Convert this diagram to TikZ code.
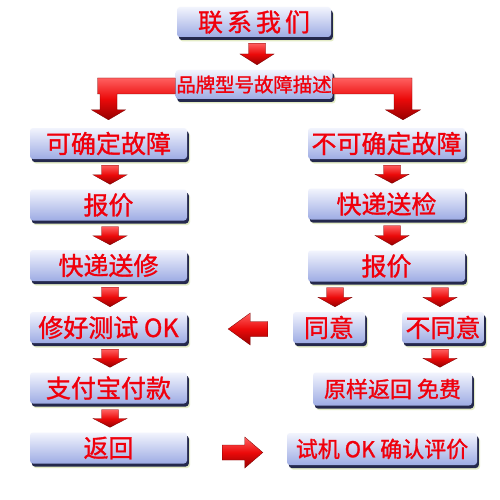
\documentclass[tikz,border=0pt]{standalone}
\usepackage{fontspec}
\newfontfamily\cjk[FakeBold=1.2]{Noto Sans CJK SC}
\usetikzlibrary{calc,shadows}
\definecolor{boxtop}{RGB}{242,244,253}
\definecolor{boxbot}{RGB}{158,172,228}
\definecolor{navy}{RGB}{36,40,76}
\definecolor{glow}{RGB}{228,236,198}
\definecolor{arrlight}{RGB}{255,95,95}
\definecolor{arrmid}{RGB}{235,10,10}
\definecolor{arrdark}{RGB}{150,0,0}
\definecolor{txtred}{RGB}{240,0,12}
\tikzset{
  box/.style={rectangle, rounded corners=3pt, top color=boxtop, bottom color=boxbot,
    general shadow={fill=glow, shadow xshift=3pt, shadow yshift=-4.5pt},
    general shadow={fill=navy, shadow xshift=1.8pt, shadow yshift=-3pt},
    text=txtred, font=\cjk\fontsize{25}{25}\selectfont, inner sep=0pt,
    minimum height=31pt, minimum width=157pt},
  redarrow/.style={top color=arrlight, bottom color=arrdark, middle color=arrmid,
    draw=arrdark!80!black, line width=0.3pt},
}
% vertical down arrow: #1 x reference, #2 source node, #3 target node
\newcommand\vdown[3]{%
  \path[redarrow] let \p1=(#1), \p2=($(#2.south)+(0,-6pt)$), \p3=($(#3.north)+(0,5pt)$),
    \n1={\y3+0.5*(\y2-\y3)} in
    (\x1-8.5pt,\y2) -- (\x1+8.5pt,\y2) -- (\x1+8.5pt,\n1) -- (\x1+17pt,\n1) --
    (\x1,\y3) -- (\x1-17pt,\n1) -- (\x1-8.5pt,\n1) -- cycle;}
\begin{document}
\begin{tikzpicture}[x=1pt,y=-1pt]
\useasboundingbox[fill=white] (0,0) rectangle (500,500);
% boxes
\node[box, minimum width=154pt, minimum height=30pt] (n1) at (254,22) {联\hspace{4pt}系\hspace{4pt}我\hspace{4pt}们};
\node[box, minimum width=157pt, minimum height=29pt, font=\cjk\fontsize{19.4}{19.4}\selectfont] (n2) at (254,84.5) {品牌型号故障描述};
\node[box] (l1) at (108.5,143.5) {可确定故障};
\node[box] (l2) at (108.5,205) {报价};
\node[box] (l3) at (108.5,265.5) {快递送修};
\node[box] (l4) at (108.5,327.5) {修好测试 OK};
\node[box] (l5) at (108.5,388) {支付宝付款};
\node[box] (l6) at (108.5,448) {返回};
\node[box] (r1) at (386.5,143.5) {不可确定故障};
\node[box] (r2) at (386.5,204) {快递送检};
\node[box] (r3) at (386.5,266) {报价};
\node[box, minimum width=72pt] (ra) at (329,327.5) {同意};
\node[box, minimum width=82pt] (rb) at (443,327.5) {不同意};
\node[box, minimum width=159pt, minimum height=33pt, font=\cjk\fontsize{22}{22}\selectfont] (rc) at (392.5,389) {原样返回 免费};
\node[box, minimum width=190pt, minimum height=32pt, font=\cjk\fontsize{22}{22}\selectfont] (rd) at (382,449) {试机 OK 确认评价};
% vertical arrows
\vdown{$(n1.south)+(3pt,0)$}{n1}{n2}
\vdown{$(l1.south)+(1.5pt,0)$}{l1}{l2}
\vdown{$(l2.south)+(1.5pt,0)$}{l2}{l3}
\vdown{$(l3.south)+(1.5pt,0)$}{l3}{l4}
\vdown{$(l4.south)+(1.5pt,0)$}{l4}{l5}
\vdown{$(l5.south)+(1.5pt,0)$}{l5}{l6}
\vdown{$(r1.south)+(5.5pt,0)$}{r1}{r2}
\vdown{$(r2.south)+(5.5pt,0)$}{r2}{r3}
\vdown{$(ra.north)+(6pt,0)$}{r3}{ra}
\vdown{$(rb.north)+(-3pt,0)$}{r3}{rb}
\vdown{$(rb.south)+(-3pt,0)$}{rb}{rc}
% bent arrows from n2
\path[redarrow] let \p1=(n2.west), \p2=(l1.north), \n1={\y2+8pt}, \n2={\y2+18pt} in
  (\x1,\y1+6.5pt) -- (\x2-11pt,\y1+6.5pt) -- (\x2-11pt,\y1-9.5pt) -- (\x2-8.5pt,\y1-9.5pt) --
  (\x2-8.5pt,\n2) -- (\x2-17pt,\n2) -- (\x2,\n1) -- (\x2+17pt,\n2) -- (\x2+8.5pt,\n2) --
  (\x2+8.5pt,\y1-9.5pt) -- (\x1,\y1-9.5pt) -- cycle;
\path[redarrow] let \p1=(n2.east), \p2=($(r1.north)+(16.5pt,0)$), \n1={\y2+8pt}, \n2={\y2+18pt} in
  (\x1,\y1+6.5pt) -- (\x2+9pt,\y1+6.5pt) -- (\x2+9pt,\n2) -- (\x2+17.5pt,\n2) -- (\x2,\n1) --
  (\x2-17.5pt,\n2) -- (\x2-9pt,\n2) -- (\x2-9pt,\y1-9.5pt) -- (\x1,\y1-9.5pt) -- cycle;
% horizontal arrows
\path[redarrow] let \p1=(l4.east), \p2=(ra.west), \n1={\x2-25pt}, \n2={\x1+41pt}, \n3={\x1+63pt}, \n4={\y2-1.5pt} in
  (\n1,\n4+7.5pt) -- (\n3,\n4+7.5pt) -- (\n3,\n4+16pt) -- (\n2,\n4) -- (\n3,\n4-16pt) --
  (\n3,\n4-7.5pt) -- (\n1,\n4-7.5pt) -- cycle;
\path[redarrow] let \p1=(l6.east), \p2=(rd.west), \n1={\x1+35pt}, \n2={\x2-24pt}, \n3={\x2-42pt}, \n4={\y2-3.5pt} in
  (\n1,\n4+7.5pt) -- (\n3,\n4+7.5pt) -- (\n3,\n4+15.5pt) -- (\n2,\n4) -- (\n3,\n4-15.5pt) --
  (\n3,\n4-7.5pt) -- (\n1,\n4-7.5pt) -- cycle;
\end{tikzpicture}
\end{document}
